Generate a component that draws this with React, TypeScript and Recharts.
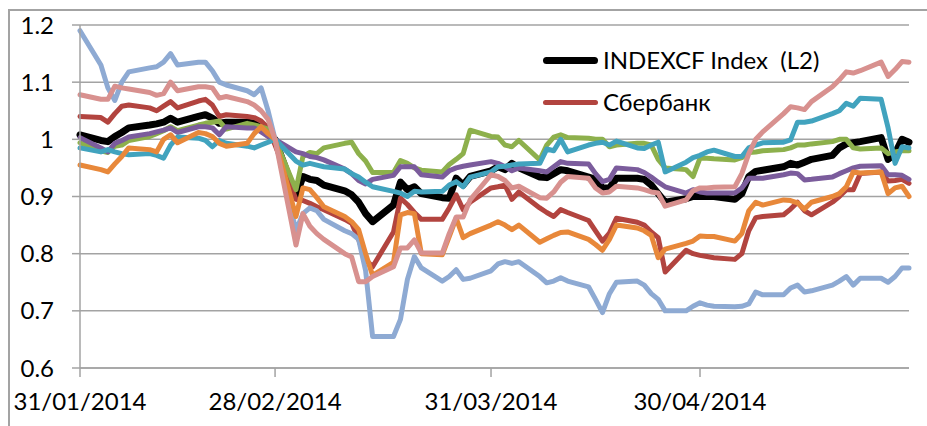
import { LineChart, Line, XAxis, YAxis, CartesianGrid } from "recharts";

// trading days, dd/mm/yyyy
const dates = [
  "31/01/2014",
  "03/02/2014", "04/02/2014", "05/02/2014", "06/02/2014", "07/02/2014",
  "10/02/2014", "11/02/2014", "12/02/2014", "13/02/2014", "14/02/2014",
  "17/02/2014", "18/02/2014", "19/02/2014", "20/02/2014", "21/02/2014",
  "24/02/2014", "25/02/2014", "26/02/2014", "27/02/2014", "28/02/2014",
  "03/03/2014", "04/03/2014", "05/03/2014", "06/03/2014", "07/03/2014",
  "10/03/2014", "11/03/2014", "12/03/2014", "13/03/2014", "14/03/2014",
  "17/03/2014", "18/03/2014", "19/03/2014", "20/03/2014", "21/03/2014",
  "24/03/2014", "25/03/2014", "26/03/2014", "27/03/2014", "28/03/2014",
  "31/03/2014", "01/04/2014", "02/04/2014", "03/04/2014", "04/04/2014",
  "07/04/2014", "08/04/2014", "09/04/2014", "10/04/2014", "11/04/2014",
  "14/04/2014", "15/04/2014", "16/04/2014", "17/04/2014", "18/04/2014",
  "21/04/2014", "22/04/2014", "23/04/2014", "24/04/2014", "25/04/2014",
  "28/04/2014", "29/04/2014", "30/04/2014", "01/05/2014", "02/05/2014",
  "05/05/2014", "06/05/2014", "07/05/2014", "08/05/2014", "09/05/2014",
  "12/05/2014", "13/05/2014", "14/05/2014", "15/05/2014", "16/05/2014",
  "19/05/2014", "20/05/2014", "21/05/2014", "22/05/2014", "23/05/2014",
  "26/05/2014", "27/05/2014", "28/05/2014", "29/05/2014", "30/05/2014",
];

const tickDates = ["31/01/2014", "28/02/2014", "31/03/2014", "30/04/2014"];
const lastDate = "30/05/2014";
const yTicks = [0.6, 0.7, 0.8, 0.9, 1, 1.1, 1.2];

const indexcf = [
  1.008, 0.998, 0.996, 1.005, 1.012, 1.02, 1.025, 1.027, 1.03, 1.037, 1.03, 1.04, 1.043, 1.037, 1.028, 1.03, 1.03, 1.028, 1.02, 1.008, 1.0,
  0.9, 0.935, 0.93, 0.928, 0.92, 0.91, 0.903, 0.89, 0.87, 0.856, 0.885, 0.925, 0.912, 0.917, 0.905, 0.898, 0.897, 0.932, 0.92, 0.935,
  0.945, 0.952, 0.947, 0.958, 0.95, 0.934, 0.933, 0.94, 0.947, 0.945, 0.934, 0.93, 0.915, 0.915, 0.932, 0.932, 0.93, 0.92, 0.905, 0.89,
  0.896, 0.9, 0.9, 0.9, 0.9, 0.895, 0.905, 0.935, 0.944, 0.946, 0.952, 0.958, 0.955, 0.96, 0.965, 0.972, 0.985, 0.992, 0.994, 0.996, 1.003, 0.965, 0.975, 1.0, 0.995,
];

const sber = [
  1.04, 1.038, 1.03, 1.045, 1.058, 1.06, 1.055, 1.05, 1.058, 1.066, 1.055, 1.067, 1.07, 1.06, 1.04, 1.043, 1.04, 1.038, 1.032, 1.02, 0.99,
  0.895, 0.893, 0.888, 0.882, 0.877, 0.86, 0.853, 0.825, 0.79, 0.777, 0.838, 0.897, 0.886, 0.872, 0.86, 0.86, 0.88, 0.903, 0.877, 0.89,
  0.915, 0.917, 0.92, 0.895, 0.908, 0.88, 0.872, 0.865, 0.877, 0.872, 0.858, 0.84, 0.822, 0.836, 0.862, 0.855, 0.85, 0.838, 0.828, 0.768,
  0.806, 0.8, 0.797, 0.795, 0.793, 0.79, 0.8, 0.84, 0.863, 0.865, 0.868, 0.878, 0.89, 0.875, 0.868, 0.89, 0.9, 0.912, 0.912, 0.94, 0.943, 0.927, 0.928, 0.93, 0.923,
];

const lightBlue = [
  1.19, 1.13, 1.09, 1.068, 1.1, 1.118, 1.125, 1.127, 1.135, 1.15, 1.13, 1.135, 1.135, 1.12, 1.1, 1.095, 1.085, 1.078, 1.09, 1.05, 1.0,
  0.84, 0.87, 0.88, 0.875, 0.86, 0.84, 0.835, 0.825, 0.77, 0.655, 0.655, 0.685, 0.755, 0.795, 0.775, 0.752, 0.76, 0.772, 0.755, 0.757,
  0.77, 0.782, 0.786, 0.783, 0.786, 0.76, 0.749, 0.752, 0.758, 0.752, 0.742, 0.72, 0.697, 0.73, 0.75, 0.752, 0.745, 0.73, 0.72, 0.7,
  0.7, 0.708, 0.714, 0.71, 0.708, 0.707, 0.708, 0.712, 0.733, 0.728, 0.728, 0.74, 0.745, 0.733, 0.735, 0.745, 0.752, 0.76, 0.745, 0.757, 0.757, 0.75, 0.76, 0.775, 0.775,
];

const green = [
  0.994, 0.98, 0.977, 0.988, 0.99, 0.998, 1.005, 1.01, 1.015, 1.022, 1.015, 1.025, 1.028, 1.03, 1.032, 1.018, 1.028, 1.025, 1.022, 1.018, 1.0,
  0.912, 0.97, 0.977, 0.975, 0.985, 0.993, 0.995, 0.975, 0.962, 0.942, 0.942, 0.963, 0.958, 0.95, 0.946, 0.943, 0.956, 0.965, 0.975, 1.016,
  1.005, 1.004, 0.99, 0.987, 0.998, 0.964, 0.99, 1.004, 1.008, 1.003, 1.002, 1.0, 1.0, 0.987, 0.99, 0.993, 0.993, 0.99, 0.965, 0.95,
  0.947, 0.935, 0.967, 0.967, 0.966, 0.964, 0.968, 0.977, 0.978, 0.98, 0.982, 0.985, 0.99, 0.99, 0.992, 0.996, 1.0, 1.0, 0.985, 0.983, 0.985, 0.975, 0.978, 0.98, 0.98,
];

const purple = [
  1.003, 0.985, 0.978, 0.993, 0.998, 1.004, 1.01, 1.013, 1.016, 1.02, 1.012, 1.022, 1.022, 1.02, 1.008, 1.022, 1.02, 1.02, 1.013, 1.005, 1.0,
  0.978, 0.975, 0.97, 0.968, 0.964, 0.948, 0.94, 0.928, 0.922, 0.93, 0.937, 0.952, 0.952, 0.952, 0.938, 0.934, 0.945, 0.95, 0.953, 0.955,
  0.961, 0.958, 0.952, 0.945, 0.95, 0.945, 0.943, 0.952, 0.961, 0.958, 0.957, 0.94, 0.926, 0.93, 0.95, 0.947, 0.942, 0.934, 0.925, 0.917,
  0.906, 0.912, 0.908, 0.906, 0.906, 0.906, 0.915, 0.932, 0.932, 0.932, 0.938, 0.941, 0.94, 0.929, 0.93, 0.934, 0.94, 0.945, 0.95, 0.953, 0.954, 0.938, 0.938, 0.937, 0.93,
];

const teal = [
  0.985, 0.978, 0.982, 0.978, 0.975, 0.973, 0.975, 0.972, 0.967, 0.99, 1.004, 1.002, 0.998, 0.987, 0.998, 0.993, 0.988, 0.985, 0.99, 0.995, 1.0,
  0.962, 0.955, 0.958, 0.955, 0.952, 0.948, 0.94, 0.934, 0.925, 0.917, 0.909, 0.906, 0.9, 0.909, 0.908, 0.909, 0.92, 0.926, 0.917, 0.934,
  0.943, 0.952, 0.953, 0.955, 0.957, 0.958, 0.983, 0.98, 1.0, 0.978, 0.99, 0.993, 0.995, 0.99, 0.997, 0.985, 0.984, 0.99, 0.995, 0.943,
  0.96, 0.968, 0.972, 0.978, 0.981, 0.97, 0.97, 0.985, 0.99, 0.994, 0.995, 0.999, 1.03, 1.03, 1.032, 1.045, 1.05, 1.063, 1.058, 1.072, 1.07, 1.02, 0.958, 0.987, 0.985,
];

const orange = [
  0.955, 0.947, 0.943, 0.957, 0.97, 0.985, 0.982, 0.978, 1.0, 1.008, 0.994, 1.012, 1.01, 1.005, 0.993, 0.988, 0.993, 1.01, 1.022, 1.01, 1.0,
  0.865, 0.915, 0.912, 0.898, 0.882, 0.865, 0.856, 0.842, 0.8, 0.762, 0.785, 0.868, 0.872, 0.87, 0.8, 0.798, 0.83, 0.862, 0.828, 0.835,
  0.85, 0.856, 0.85, 0.842, 0.85, 0.82, 0.826, 0.832, 0.837, 0.838, 0.825, 0.816, 0.806, 0.825, 0.85, 0.845, 0.84, 0.832, 0.793, 0.808,
  0.818, 0.822, 0.831, 0.83, 0.83, 0.822, 0.835, 0.875, 0.89, 0.885, 0.894, 0.893, 0.889, 0.878, 0.89, 0.9, 0.905, 0.917, 0.943, 0.941, 0.943, 0.905, 0.915, 0.918, 0.9,
];

const pink = [
  1.078, 1.07, 1.07, 1.093, 1.09, 1.088, 1.082, 1.077, 1.08, 1.1, 1.085, 1.092, 1.092, 1.09, 1.072, 1.075, 1.066, 1.06, 1.05, 1.035, 1.0,
  0.815, 0.87, 0.848, 0.835, 0.825, 0.8, 0.794, 0.751, 0.751, 0.76, 0.777, 0.81, 0.81, 0.824, 0.801, 0.801, 0.835, 0.864, 0.864, 0.894,
  0.938, 0.935, 0.928, 0.915, 0.918, 0.898, 0.897, 0.908, 0.925, 0.935, 0.932, 0.915, 0.906, 0.908, 0.918, 0.915, 0.912, 0.908, 0.906, 0.883,
  0.894, 0.91, 0.915, 0.915, 0.916, 0.917, 0.94, 0.975, 1.0, 1.013, 1.045, 1.057, 1.055, 1.052, 1.066, 1.092, 1.104, 1.118, 1.116, 1.12, 1.135, 1.11, 1.122, 1.136, 1.135,
];

const series = [
  { key: "indexcf", name: "INDEXCF Index  (L2)", color: "#000000", width: 7, values: indexcf, legend: true },
  { key: "sber", name: "Сбербанк", color: "#B2443F", width: 5, values: sber, legend: true },
  { key: "lightBlue", name: "s3", color: "#8EAAD3", width: 5, values: lightBlue, legend: false },
  { key: "green", name: "s4", color: "#8DB04C", width: 5, values: green, legend: false },
  { key: "purple", name: "s5", color: "#7B5C9C", width: 5, values: purple, legend: false },
  { key: "teal", name: "s6", color: "#41A3BE", width: 5, values: teal, legend: false },
  { key: "orange", name: "s7", color: "#E8883A", width: 5, values: orange, legend: false },
  { key: "pink", name: "s8", color: "#D8918F", width: 5, values: pink, legend: false },
];

const toDay = (s: string) => {
  const [d, m, y] = s.split("/").map(Number);
  return Date.UTC(y, m - 1, d) / 86400000;
};
const day0 = toDay(dates[0]);

const data = dates.map((s, i) => {
  const row: Record<string, number> = { d: toDay(s) - day0 };
  series.forEach((sr) => {
    row[sr.key] = sr.values[i];
  });
  return row;
});

const xTicks = tickDates.map((s) => toDay(s) - day0);
const xLabel = (v: number) => tickDates[xTicks.indexOf(v)] ?? "";

const grey = "#A3A3A3";
const font = "Lato, 'Open Sans', sans-serif";

export default function App() {
  return (
    <div style={{ position: "relative", width: 927, height: 426, overflow: "hidden", background: "#fff", fontFamily: font }}>
      <style>{`body{margin:0;overflow:hidden}`}</style>
      <div
        style={{
          position: "absolute",
          left: 8,
          top: 9,
          width: 1000,
          height: 1000,
          borderLeft: `2px solid ${grey}`,
          borderTop: `2px solid ${grey}`,
        }}
      />
      <div style={{ position: "absolute", left: 0, top: 0 }}>
        <LineChart width={927} height={426} data={data} margin={{ top: 25, right: 18, bottom: 0, left: 0 }}>
          <CartesianGrid vertical={false} stroke={grey} strokeWidth={1.5} />
          <XAxis
            dataKey="d"
            type="number"
            domain={[0, toDay(lastDate) - day0]}
            ticks={xTicks}
            interval={0}
            tickFormatter={xLabel}
            height={58}
            stroke={grey}
            strokeWidth={1.5}
            tickSize={9}
            tickMargin={16}
            tick={{ fill: "#000", fontSize: 24, fontFamily: font }}
          />
          <YAxis
            domain={[0.6, 1.2]}
            ticks={yTicks}
            interval={0}
            width={80}
            stroke={grey}
            strokeWidth={1.5}
            tickSize={8}
            tickMargin={18}
            tick={{ fill: "#000", fontSize: 24, fontFamily: font }}
          />
          {series.map((s) => (
            <Line
              key={s.key}
              type="linear"
              dataKey={s.key}
              name={s.name}
              stroke={s.color}
              strokeWidth={s.width}
              strokeLinejoin="round"
              strokeLinecap="round"
              dot={false}
              activeDot={false}
              isAnimationActive={false}
            />
          ))}
        </LineChart>
      </div>
      <div style={{ position: "absolute", left: 543, top: 39 }}>
        {series
          .filter((s) => s.legend)
          .map((s) => (
            <div key={s.key} style={{ display: "flex", alignItems: "center", height: 42 }}>
              <div style={{ width: 55, height: s.width, borderRadius: s.width / 2, background: s.color }} />
              <span style={{ marginLeft: 5, fontSize: 24, color: "#000", whiteSpace: "pre", lineHeight: "42px" }}>{s.name}</span>
            </div>
          ))}
      </div>
    </div>
  );
}
